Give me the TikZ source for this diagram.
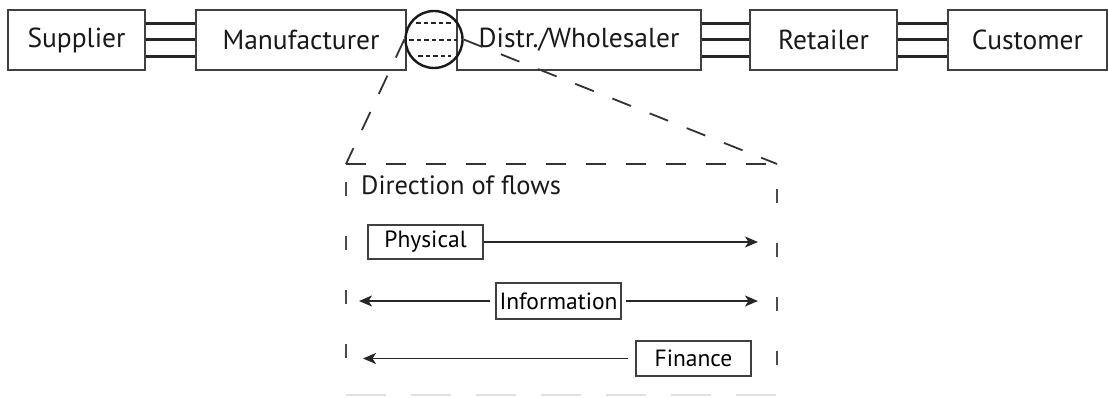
\documentclass[tikz,border=0pt]{standalone}
\usepackage{fontspec}
\setmainfont{PT Sans}
\usetikzlibrary{arrows.meta}
\begin{document}
\begin{tikzpicture}[x=1pt,y=-1pt,
  chain/.style={draw=black!75, line width=1.7pt, minimum height=60pt, inner sep=0pt, font=\fontsize{27.5}{30}\selectfont, text=black!90},
  flowbox/.style={draw=black!75, line width=1.7pt, inner sep=0pt, font=\fontsize{23.5}{25}\selectfont, text=black},
  link/.style={line width=3pt, black!85},
  dotrow/.style={line width=2pt, black!85, dash pattern=on 4.5pt off 3pt},
  guide/.style={line width=1.8pt, black!80, dash pattern=on 20pt off 20pt},
  side/.style={line width=1.8pt, black!70, dash pattern=on 14pt off 40pt},
  flow/.style={line width=1.7pt, black!85, -{Stealth[length=13pt,width=11pt,inset=3.5pt]}}
]
\useasboundingbox (0,0) rectangle (1108,398);
% supply chain
\node[chain, minimum width=137pt] (sup) at (76.5,40) {Supplier};
\node[chain, minimum width=210pt] (man) at (301,40) {Manufacturer};
\node[chain, minimum width=244pt] (dis) at (579,40) {Distr./Wholesaler};
\node[chain, minimum width=147pt] (ret) at (823.5,40) {Retailer};
\node[chain, minimum width=159pt] (cus) at (1027.5,40) {Customer};
\foreach \a/\b in {sup/man, dis/ret, ret/cus}{
  \foreach \s in {16.5,0,-16.5}{
    \draw[link] ([yshift=\s pt]\a.east) -- ([yshift=\s pt]\b.west);
  }
}
% magnifier circle
\node[circle, draw=black!90, line width=2.4pt, minimum size=57pt, inner sep=0pt] (mag) at (434,39.5) {};
\draw[dotrow] (416,23.5) -- (453,23.5);
\draw[dotrow] (409,40) -- (457,40);
\draw[dotrow] (418,56.5) -- (451,56.5);
% zoom box corners
\coordinate (tl) at (346,164);
\coordinate (tr) at (777,164);
\coordinate (bl) at (346,395);
\coordinate (br) at (777,395);
\draw[guide] (mag.west) -- (tl);
\draw[guide] (mag.east) -- (tr);
\draw[guide] (tl) -- (tr);
\draw[side, dash phase=36pt] (tl) -- (bl);
\draw[side, dash phase=29pt] (tr) -- (br);
\draw[line width=1.6pt, black!12, dash pattern=on 40pt off 25pt] (bl) -- (br);
% contents
\node[anchor=base west, font=\fontsize{26.5}{28}\selectfont, text=black!90, inner sep=0pt] (title) at (361,195) {Direction of flows};
\node[flowbox, minimum width=115pt, minimum height=34pt] (phy) at (425.5,242) {Physical};
\node[flowbox, minimum width=125pt, minimum height=36pt] (inf) at (558.5,301) {Information};
\node[flowbox, minimum width=115pt, minimum height=35pt] (fin) at (693.5,358.5) {Finance};
\coordinate (phyend) at (758,242);
\coordinate (infl) at (359,301);
\coordinate (infr) at (758,301);
\coordinate (finend) at (363,358.5);
\draw[flow] (phy.east) -- (phyend);
\draw[flow, shorten <=5pt] (inf.west) -- (infl);
\draw[flow, shorten <=4pt] (inf.east) -- (infr);
\draw[flow, shorten <=7pt] (fin.west) -- (finend);
\end{tikzpicture}
\end{document}
